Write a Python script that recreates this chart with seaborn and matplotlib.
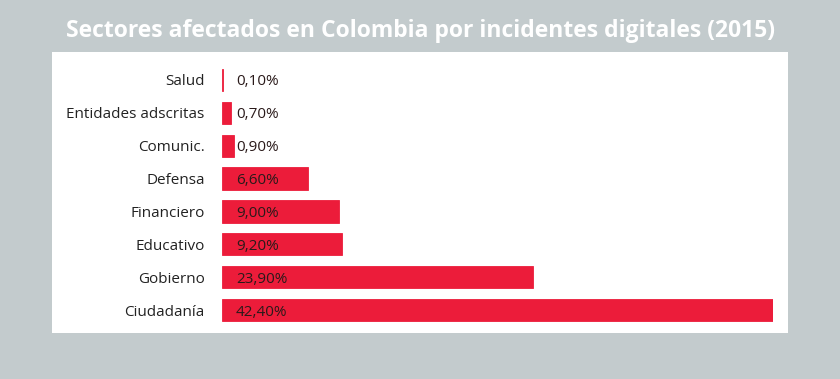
import matplotlib
matplotlib.use("Agg")
import matplotlib.pyplot as plt
import seaborn as sns
import pandas as pd
from matplotlib.patches import Rectangle

sectores = ["Salud", "Entidades adscritas", "Comunic.", "Defensa",
            "Financiero", "Educativo", "Gobierno", "Ciudadanía"]
valores = [0.1, 0.7, 0.9, 6.6, 9.0, 9.2, 23.9, 42.4]
etiquetas = ["0,10%", "0,70%", "0,90%", "6,60%", "9,00%", "9,20%", "23,90%", "42,40%"]
titulo = "Sectores afectados en Colombia por incidentes digitales (2015)"

df = pd.DataFrame({"sector": sectores, "valor": valores})

sns.set_theme(style="white")
plt.rcParams["font.family"] = ["Open Sans", "DejaVu Sans"]

W, H = 840, 379
bg = "#c3cbcd"
red = "#ec1c3a"
fig = plt.figure(figsize=(W / 100, H / 100), dpi=100, facecolor=bg)

# white panel in a background axes
bgax = fig.add_axes([0, 0, 1, 1], zorder=-1)
bgax.set_xlim(0, W)
bgax.set_ylim(H, 0)
bgax.axis("off")
bgax.add_patch(Rectangle((52, 52), 788 - 52, 333 - 52, facecolor="white",
                         edgecolor="none"))

ax = fig.add_axes([222 / W, 1 - 326.5 / H, (773 - 222) / W, (326.5 - 63.5) / H],
                  zorder=1)
ax.set_facecolor("none")
sns.barplot(data=df, x="valor", y="sector", orient="h", color=red,
            saturation=1, width=0.68, edgecolor=red, linewidth=0.6, ax=ax)
ax.set_xlim(0, 42.4)
ax.set_ylim(7.5, -0.5)
ax.set_xlabel("")
ax.set_ylabel("")
ax.set_xticks([])
for s in ax.spines.values():
    s.set_visible(False)
ax.tick_params(axis="y", length=0, pad=12.5, labelsize=11, labelcolor="#222222")

for i, lab in enumerate(etiquetas):
    ax.annotate(lab, xy=(0, i), xytext=(10, 0), textcoords="offset points",
                ha="left", va="center_baseline", fontsize=11, color="#2a1a1a")

fig.text(0.5, 1 - 31 / H, titulo, ha="center", va="center", color="white",
         fontsize=16.5, fontweight="bold")

fig.savefig("out.png", dpi=100, facecolor=bg)
